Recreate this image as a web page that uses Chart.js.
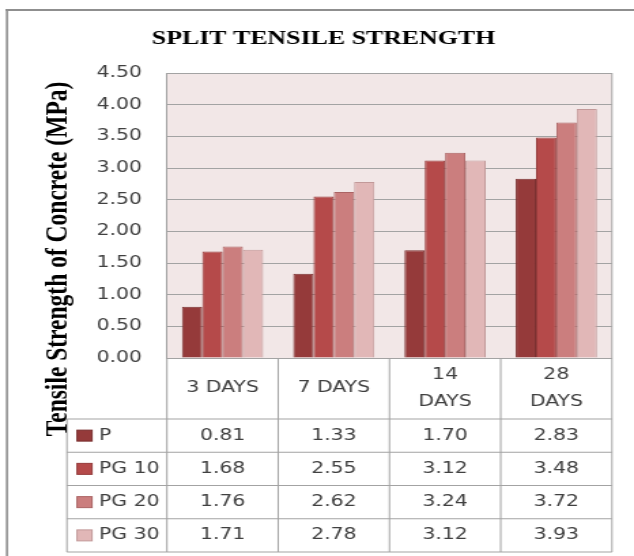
<!DOCTYPE html>
<html>
<head>
<meta charset="utf-8">
<script src="https://cdn.jsdelivr.net/npm/chart.js@4/dist/chart.umd.min.js"></script>
<style>
  html, body { margin: 0; padding: 0; background: #fff; overflow: hidden; }
  /* the chart is laid out on a narrower canvas and widened horizontally */
  #c { display: block; transform: scaleX(1.3605); transform-origin: 0 0; }
</style>
</head>
<body>
<canvas id="c" width="466" height="556"></canvas>
<script>
// ---- data ----
const categories  = [['3 DAYS'], ['7 DAYS'], ['14', 'DAYS'], ['28', 'DAYS']];
const seriesNames = ['P', 'PG 10', 'PG 20', 'PG 30'];
const seriesP     = [0.81, 1.33, 1.70, 2.83];
const seriesPG10  = [1.68, 2.55, 3.12, 3.48];
const seriesPG20  = [1.76, 2.62, 3.24, 3.72];
const seriesPG30  = [1.71, 2.78, 3.12, 3.93];
const yMin = 0, yMax = 4.5, yStep = 0.5;

const chartTitle = 'SPLIT TENSILE STRENGTH';
const axisTitle  = 'Tensile Strength of Concrete (MPa)';

// ---- styling ----
const fills = ['#953a3a', '#b54a4a', '#cb7e7e', '#e1b7b7'];
const edges = ['#7a2f2f', '#963c3c', '#ab6464', '#c29999'];
const plotBg = '#f2e7e7';
const lineGray = '#a3a3a3';
const textGray = '#404040';
const sansFont = '"DejaVu Sans"';
const serifFont = '"Liberation Serif"';

const plotLeft = 122.7;     // width reserved for the value axis
const tableLeft = 49.2;     // left edge of the legend column
const headerH = 61;         // category header row
const rowH = 33.25;         // one data row

const allSeries = [seriesP, seriesPG10, seriesPG20, seriesPG30];

function line(ctx, x1, y1, x2, y2) {
  ctx.beginPath();
  ctx.moveTo(x1, y1);
  ctx.lineTo(x2, y2);
  ctx.stroke();
}

const backdrop = {
  id: 'backdrop',
  beforeDraw(chart) {
    const { ctx, chartArea: ca } = chart;
    ctx.save();
    ctx.fillStyle = '#fff';
    ctx.fillRect(0, 0, chart.width, chart.height);
    // outer frame
    ctx.strokeStyle = '#8f8f8f';
    ctx.lineWidth = 2;
    line(ctx, 4, 10, chart.width, 10);
    ctx.lineWidth = 1.6;
    line(ctx, 5.1, 9, 5.1, chart.height);
    // plot area background
    ctx.fillStyle = plotBg;
    ctx.fillRect(ca.left, ca.top, ca.right - ca.left, ca.bottom - ca.top);
    ctx.restore();
  }
};

const dataTable = {
  id: 'dataTable',
  afterDraw(chart) {
    const { ctx, chartArea: ca, scales: { x } } = chart;
    const n = categories.length;
    const colW = (x.right - x.left) / n;
    const top = ca.bottom;
    const headBottom = top + headerH;
    const bottom = headBottom + rowH * seriesNames.length;

    ctx.save();
    ctx.strokeStyle = lineGray;
    ctx.lineWidth = 1;
    // plot right edge
    line(ctx, ca.right, ca.top, ca.right, ca.bottom);
    // column boundaries
    for (let i = 0; i <= n; i++) {
      const bx = i < n ? x.getPixelForValue(i) - colW / 2 : x.right;
      line(ctx, bx, top, bx, bottom);
    }
    line(ctx, tableLeft, headBottom, tableLeft, bottom);
    for (let r = 0; r <= seriesNames.length; r++) {
      const hy = headBottom + r * rowH;
      line(ctx, tableLeft, hy, x.right, hy);
    }

    ctx.font = '15px ' + sansFont;
    ctx.fillStyle = textGray;
    ctx.textBaseline = 'middle';
    ctx.textAlign = 'center';
    // category headers
    const headMid = (top + headBottom) / 2;
    categories.forEach((lines, i) => {
      const cx = x.getPixelForValue(i);
      if (lines.length === 1) {
        ctx.fillText(lines[0], cx, headMid);
      } else {
        ctx.fillText(lines[0], cx, headMid - 13.5);
        ctx.fillText(lines[1], cx, headMid + 13.5);
      }
    });

    // rows: legend key + values
    chart.data.datasets.forEach((ds, s) => {
      const my = headBottom + rowH * (s + 0.5);
      ctx.fillStyle = fills[s];
      ctx.fillRect(tableLeft + 7.4, my - 5.5, 11, 11);
      ctx.strokeStyle = edges[s];
      ctx.strokeRect(tableLeft + 7.4, my - 5.5, 11, 11);
      ctx.fillStyle = textGray;
      ctx.textAlign = 'left';
      ctx.fillText(ds.label, tableLeft + 23.6, my);
      ctx.textAlign = 'center';
      ds.data.forEach((v, i) => {
        ctx.fillText(v.toFixed(2), x.getPixelForValue(i), my);
      });
    });

    // chart title
    ctx.fillStyle = '#000';
    ctx.font = 'bold 19px ' + serifFont;
    ctx.textAlign = 'center';
    ctx.textBaseline = 'middle';
    ctx.fillText(chartTitle, 237.8, 39);

    // value axis title
    ctx.translate(48.5, 259);
    ctx.rotate(-Math.PI / 2);
    ctx.font = 'bold 23.5px ' + serifFont;
    ctx.textAlign = 'center';
    ctx.textBaseline = 'alphabetic';
    ctx.fillText(axisTitle, 0, 0);
    ctx.restore();
  }
};

new Chart(document.getElementById('c'), {
  type: 'bar',
  data: {
    labels: categories,
    datasets: allSeries.map((d, s) => ({
      label: seriesNames[s],
      data: d,
      backgroundColor: fills[s],
      borderColor: edges[s],
      borderWidth: 1,
      categoryPercentage: 0.73,
      barPercentage: 1.0
    }))
  },
  options: {
    responsive: false,
    devicePixelRatio: 1,
    animation: false,
    layout: { padding: { left: 0, right: 16.2, top: 73, bottom: 198 } },
    plugins: {
      legend: { display: false },
      title: { display: false },
      tooltip: { enabled: false }
    },
    scales: {
      x: {
        ticks: { display: false },
        grid: { display: false, drawTicks: false },
        border: { color: lineGray }
      },
      y: {
        min: yMin,
        max: yMax,
        ticks: {
          stepSize: yStep,
          padding: 18.3,
          color: textGray,
          font: { family: 'DejaVu Sans', size: 15 },
          callback: v => Number(v).toFixed(2)
        },
        grid: { color: lineGray, drawTicks: false, lineWidth: 1 },
        border: { color: lineGray },
        afterFit(scale) { scale.width = plotLeft; }
      }
    }
  },
  plugins: [backdrop, dataTable]
});
</script>
</body>
</html>
